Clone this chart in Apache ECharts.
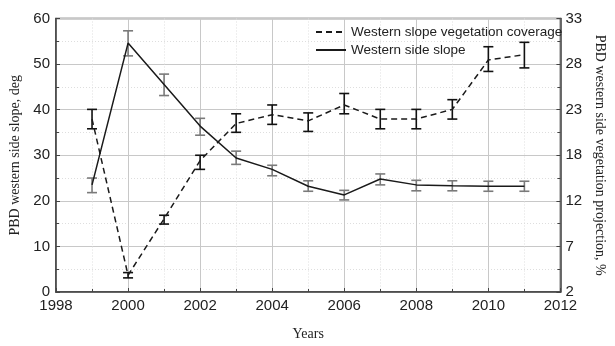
<!DOCTYPE html>
<html>
<head>
<meta charset="utf-8">
<script src="https://cdn.jsdelivr.net/npm/echarts@6/dist/echarts.min.js"></script>
<style>
  html, body { margin: 0; padding: 0; background: #fff; }
  #chart { width: 615px; height: 346px; }
</style>
</head>
<body>
<div id="chart"></div>
<script>
  // years on the x axis
  const years = [1999, 2000, 2001, 2002, 2003, 2004, 2005, 2006, 2007, 2008, 2009, 2010, 2011]

  // western side slope, deg (left axis)
  const slope = [23.5, 54.6, 45.5, 36.4, 29.4, 26.9, 23.2, 21.3, 24.8, 23.5, 23.3, 23.2, 23.2]
  const slopeLow = [21.8, 51.8, 43.1, 34.4, 28.0, 25.5, 22.1, 20.2, 23.5, 22.2, 22.2, 22.1, 22.1]
  const slopeHigh = [25.0, 57.3, 47.8, 38.1, 30.9, 27.8, 24.4, 22.3, 25.9, 24.5, 24.4, 24.3, 24.3]

  // western slope vegetation coverage, % (right axis)
  const veg = [21.6, 3.9, 10.3, 16.9, 21.1, 22.1, 21.4, 23.2, 21.6, 21.6, 22.7, 28.3, 28.9]
  const vegLow = [20.5, 3.6, 9.7, 15.9, 20.1, 21.0, 20.2, 22.2, 20.5, 20.5, 21.6, 27.0, 27.4]
  const vegHigh = [22.7, 4.2, 10.7, 17.5, 22.2, 23.2, 22.3, 24.5, 22.7, 22.7, 23.8, 29.8, 30.3]

  // right axis tick labels (axis runs 2..33 in six steps)
  const rightTicks = ['2', '7', '12', '18', '23', '28', '33']

  const pairs = (vals) => years.map((y, i) => [y, vals[i]])
  const bars = (lo, hi) => years.map((y, i) => [y, lo[i], hi[i]])

  function errorBar(color) {
    return function (params, api) {
      const top = api.coord([api.value(0), api.value(2)])
      const bot = api.coord([api.value(0), api.value(1)])
      const w = 5
      const style = {stroke: color, lineWidth: 1.6}
      return {
        type: 'group',
        children: [
          {type: 'line', shape: {x1: top[0], y1: top[1], x2: bot[0], y2: bot[1]}, style: style},
          {type: 'line', shape: {x1: top[0] - w, y1: top[1], x2: top[0] + w, y2: top[1]}, style: style},
          {type: 'line', shape: {x1: bot[0] - w, y1: bot[1], x2: bot[0] + w, y2: bot[1]}, style: style}
        ]
      }
    }
  }

  const sans = 'Liberation Sans'
  const serif = 'Liberation Serif'
  const axisColor = '#444'

  let chart = echarts.init(document.getElementById('chart'))
  let option = {
    animation: false,
    grid: {
      left: 53.5,
      right: 44,
      top: 18.5,
      bottom: 52.5,
      show: true,
      borderColor: axisColor,
      borderWidth: 1.5
    },
    legend: {
      orient: 'vertical',
      left: 310,
      top: 20,
      itemWidth: 30,
      itemHeight: 14,
      itemGap: 4,
      itemStyle: {opacity: 0},
      textStyle: {fontFamily: sans, fontSize: 13.5, lineHeight: 14, color: '#222'},
      data: ['Western slope vegetation coverage', 'Western side slope']
    },
    xAxis: {
      type: 'value',
      min: 1998,
      max: 2012,
      interval: 2,
      name: 'Years',
      nameLocation: 'middle',
      nameGap: 35,
      nameTextStyle: {fontFamily: serif, fontSize: 14, color: '#222'},
      axisLine: {lineStyle: {color: axisColor, width: 1.5}},
      axisTick: {inside: true, length: 4, lineStyle: {color: axisColor}},
      minorTick: {show: true, splitNumber: 2, length: 3, lineStyle: {color: axisColor}},
      axisLabel: {
        fontFamily: sans, fontSize: 15, color: '#222', margin: 6,
        formatter: (v) => String(v)
      },
      splitLine: {show: true, lineStyle: {color: '#c8c8c8', width: 1}},
      minorSplitLine: {show: true, lineStyle: {color: '#dedede', type: [1, 2], width: 1}}
    },
    yAxis: [
      {
        type: 'value',
        min: 0,
        max: 60,
        interval: 10,
        name: 'PBD western side slope, deg',
        nameLocation: 'middle',
        nameGap: 34,
        nameTextStyle: {fontFamily: serif, fontSize: 14, color: '#222'},
        axisLine: {show: true, lineStyle: {color: axisColor, width: 1.5}},
        axisTick: {show: true, inside: true, length: 4, lineStyle: {color: axisColor}},
        minorTick: {show: true, splitNumber: 2, length: 3, lineStyle: {color: axisColor}},
        axisLabel: {fontFamily: sans, fontSize: 15, color: '#222', margin: 6},
        splitLine: {show: true, lineStyle: {color: '#c8c8c8', width: 1}},
        minorSplitLine: {show: true, lineStyle: {color: '#dedede', type: [1, 2], width: 1}}
      },
      {
        type: 'value',
        position: 'right',
        min: 2,
        max: 33,
        interval: 31 / 6,
        name: 'PBD western side vegetation projection, %',
        nameLocation: 'middle',
        nameRotate: -90,
        nameGap: 28,
        nameTextStyle: {fontFamily: serif, fontSize: 14, color: '#222'},
        axisLine: {show: true, lineStyle: {color: axisColor, width: 1.5}},
        axisTick: {show: true, inside: true, length: 4, lineStyle: {color: axisColor}},
        minorTick: {show: true, splitNumber: 2, length: 3, lineStyle: {color: axisColor}},
        axisLabel: {
          fontFamily: sans, fontSize: 15, color: '#222', margin: 5,
          formatter: (v) => rightTicks[Math.round((v - 2) / (31 / 6))] || ''
        },
        splitLine: {show: false}
      }
    ],
    series: [
      {
        name: 'Western slope vegetation coverage',
        type: 'line',
        yAxisIndex: 1,
        symbol: 'none',
        lineStyle: {color: '#1a1a1a', width: 1.5, type: [6, 4]},
        itemStyle: {color: '#1a1a1a'},
        data: pairs(veg)
      },
      {
        name: 'Western side slope',
        type: 'line',
        yAxisIndex: 0,
        symbol: 'none',
        lineStyle: {color: '#1a1a1a', width: 1.5},
        itemStyle: {color: '#1a1a1a'},
        data: pairs(slope)
      },
      {
        name: 'vegErr',
        type: 'custom',
        yAxisIndex: 1,
        renderItem: errorBar('#111'),
        encode: {x: 0, y: [1, 2]},
        z: 3,
        data: bars(vegLow, vegHigh)
      },
      {
        name: 'slopeErr',
        type: 'custom',
        yAxisIndex: 0,
        renderItem: errorBar('#7a7a7a'),
        encode: {x: 0, y: [1, 2]},
        z: 3,
        data: bars(slopeLow, slopeHigh)
      }
    ]
  }
  window.onresize = chart.resize
  chart.setOption(option)
</script>
</body>
</html>
